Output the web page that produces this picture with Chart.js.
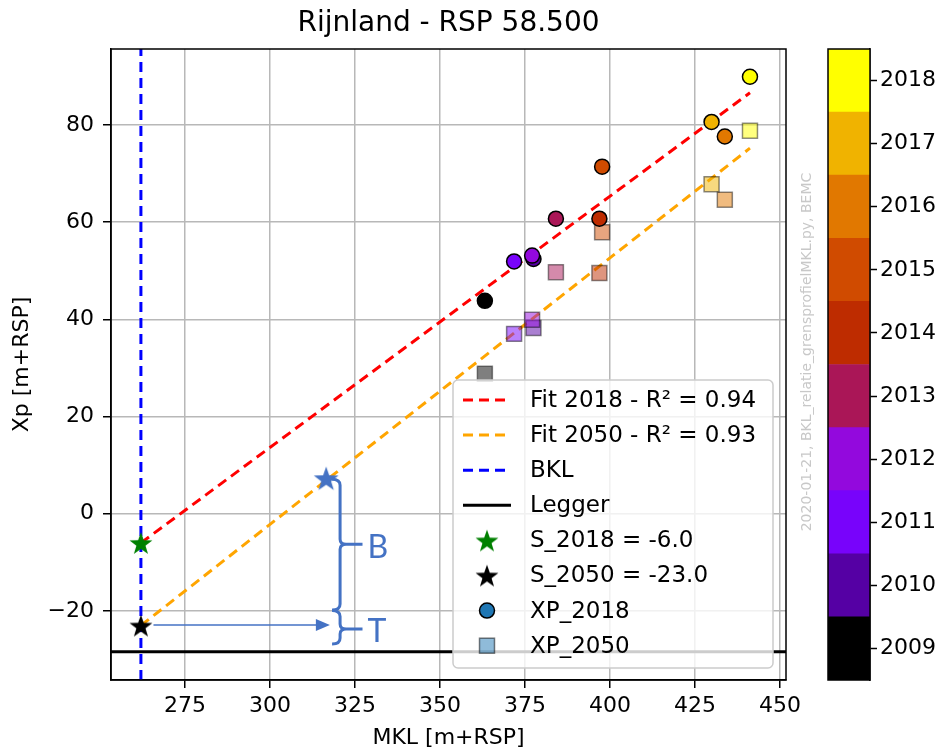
<!DOCTYPE html>
<html>
<head>
<meta charset="utf-8">
<script src="https://cdn.jsdelivr.net/npm/chart.js@4/dist/chart.umd.min.js"></script>
<style>
  body { margin: 0; background: #fff; }
  #wrap { position: relative; width: 939px; height: 751px; }
  #mainChart { position: absolute; left: 0; top: 0; }
  #barChart { position: absolute; left: 820px; top: 0; }
</style>
</head>
<body>
<div id="wrap">
  <canvas id="mainChart" width="939" height="751"></canvas>
  <canvas id="barChart" width="119" height="751"></canvas>
</div>
<script>
// data
var years = [2009, 2010, 2011, 2012, 2013, 2014, 2015, 2016, 2017, 2018];
var mkl = [363.2, 377.5, 371.8, 377.1, 384.1, 396.9, 397.7, 433.8, 429.9, 441.2];
var xp2018 = [43.8, 52.4, 51.9, 53.1, 60.7, 60.7, 71.4, 77.6, 80.6, 89.9];
var xp2050 = [28.8, 38.2, 37.0, 39.9, 49.7, 49.5, 57.9, 64.6, 67.8, 78.8];
var fitX = [262.0, 441.2];
var fit2018 = [-6.0, 86.6];
var fit2050 = [-23.0, 75.2];
var bklX = 262.0;
var leggerY = -28.4;
var s2018 = -6.0;
var s2050 = -23.0;
var xRange = [253.2, 451.8];
var yRange = [-34.2, 95.6];
var xTicks = [275, 300, 325, 350, 375, 400, 425, 450];
var yTicks = [-20, 0, 20, 40, 60, 80];
var legendLabels = ['Fit 2018 - R\u00b2 = 0.94', 'Fit 2050 - R\u00b2 = 0.93', 'BKL', 'Legger',
  'S_2018 = -6.0', 'S_2050 = -23.0', 'XP_2018', 'XP_2050'];
// hand-drawn overlay (B / T braces), in data units
var markStar = [316.5, 7.3];
var braceX = 320.6, braceTipX = 327.2;
var braceB = [7.1, -6.3, -19.8];
var braceT = [-19.9, -23.7, -26.8];
var arrowX = [265.7, 317.6], arrowY = -22.9;

// gnuplot colormap, 10 steps
var yearColors = ['#000000', '#5500a4', '#7803fb', '#9309dd', '#aa1657', '#be2c00', '#d04b00', '#e17800', '#f0b300', '#ffff00'];
var annColor = '#4472c4';

function alpha(hex, a) {
  var n = parseInt(hex.slice(1), 16);
  return 'rgba(' + (n >> 16) + ',' + ((n >> 8) & 255) + ',' + (n & 255) + ',' + a + ')';
}

function starImage(color, r) {
  var c = document.createElement('canvas');
  var s = Math.ceil(r * 2 + 4);
  c.width = s; c.height = s;
  var g = c.getContext('2d');
  g.beginPath();
  for (var i = 0; i < 10; i++) {
    var rr = i % 2 ? r * 0.4 : r;
    var a = -Math.PI / 2 + i * Math.PI / 5;
    g.lineTo(s / 2 + rr * Math.cos(a), s / 2 + rr * Math.sin(a) + r * 0.1);
  }
  g.closePath();
  g.fillStyle = color;
  g.fill();
  return c;
}
var greenStar = starImage('#008000', 12);
var blackStar = starImage('#000000', 12);
var blueStar = starImage(annColor, 13);

function pts(xs, ys) {
  return xs.map(function (x, i) { return { x: x, y: ys[i] }; });
}

var tickFont = { family: 'DejaVu Sans', size: 22 };
function fmt(v) { return v < 0 ? '\u2212' + Math.abs(v) : String(v); }

var framePlugin = {
  id: 'frame',
  afterDraw: function (chart) {
    var ca = chart.chartArea, ctx = chart.ctx;
    ctx.save();
    ctx.strokeStyle = '#000';
    ctx.lineWidth = 1.5;
    ctx.strokeRect(ca.left, ca.top, ca.right - ca.left, ca.bottom - ca.top);
    ctx.restore();
  }
};

function drawBrace(ctx, x, yTop, yMid, yBot, tipX) {
  ctx.beginPath();
  ctx.moveTo(x - 8, yTop);
  ctx.quadraticCurveTo(x, yTop, x, yTop + 6);
  ctx.lineTo(x, yMid - 5);
  ctx.quadraticCurveTo(x, yMid, x + 6, yMid);
  ctx.lineTo(tipX, yMid);
  ctx.moveTo(x + 6, yMid);
  ctx.quadraticCurveTo(x, yMid, x, yMid + 5);
  ctx.lineTo(x, yBot - 6);
  ctx.quadraticCurveTo(x, yBot, x - 8, yBot);
  ctx.stroke();
}

var overlayPlugin = {
  id: 'overlay',
  afterDraw: function (chart) {
    var ctx = chart.ctx, ca = chart.chartArea;
    var xs = chart.scales.x, ys = chart.scales.y;
    var ds = chart.data.datasets;
    function byLabel(l) { return ds.filter(function (d) { return d.label === l; })[0]; }

    // legend
    var w = 320, h = 288;
    var bx = ca.right - 13 - w, by = ca.bottom - 12 - h;
    ctx.save();
    ctx.beginPath();
    ctx.roundRect(bx, by, w, h, 5);
    ctx.fillStyle = 'rgba(255,255,255,0.8)';
    ctx.fill();
    ctx.strokeStyle = '#cccccc';
    ctx.lineWidth = 1.5;
    ctx.stroke();
    ctx.font = '23px "DejaVu Sans"';
    ctx.textBaseline = 'middle';
    ctx.textAlign = 'left';
    legendLabels.forEach(function (lab, i) {
      var d = byLabel(lab);
      var cy = by + 20 + i * 35.1;
      var lx = bx + 10, mx = bx + 34;
      if (d.showLine) {
        ctx.beginPath();
        ctx.setLineDash(d.borderDash || []);
        ctx.strokeStyle = d.borderColor;
        ctx.lineWidth = d.borderWidth;
        ctx.moveTo(lx, cy);
        ctx.lineTo(lx + 48, cy);
        ctx.stroke();
        ctx.setLineDash([]);
      } else if (d.pointStyle === 'circle') {
        ctx.beginPath();
        ctx.arc(mx, cy, 7.5, 0, Math.PI * 2);
        ctx.fillStyle = '#1f77b4';
        ctx.fill();
        ctx.strokeStyle = '#000';
        ctx.lineWidth = 1.5;
        ctx.stroke();
      } else if (d.pointStyle === 'rect') {
        ctx.fillStyle = 'rgba(31,119,180,0.5)';
        ctx.fillRect(mx - 7.5, cy - 7.5, 15, 15);
        ctx.strokeStyle = 'rgba(0,0,0,0.5)';
        ctx.lineWidth = 1.5;
        ctx.strokeRect(mx - 7.5, cy - 7.5, 15, 15);
      } else {
        var img = d.pointStyle;
        ctx.drawImage(img, mx - img.width / 2, cy - img.height / 2);
      }
      ctx.fillStyle = '#000';
      ctx.fillText(lab, bx + 77, cy + 1);
    });
    ctx.restore();

    // hand-drawn overlay
    ctx.save();
    ctx.strokeStyle = annColor;
    ctx.fillStyle = annColor;
    ctx.lineWidth = 3;
    var px = xs.getPixelForValue(braceX), tip = xs.getPixelForValue(braceTipX);
    drawBrace(ctx, px, ys.getPixelForValue(braceB[0]), ys.getPixelForValue(braceB[1]), ys.getPixelForValue(braceB[2]), tip);
    drawBrace(ctx, px, ys.getPixelForValue(braceT[0]), ys.getPixelForValue(braceT[1]), ys.getPixelForValue(braceT[2]), tip);
    ctx.font = '32px Lato';
    ctx.textBaseline = 'middle';
    ctx.fillText('B', tip + 5, ys.getPixelForValue(braceB[1]) + 3);
    ctx.fillText('T', tip + 5, ys.getPixelForValue(braceT[1]) + 3);
    var a0 = xs.getPixelForValue(arrowX[0]), a1 = xs.getPixelForValue(arrowX[1]), ay = ys.getPixelForValue(arrowY);
    ctx.lineWidth = 1.5;
    ctx.beginPath();
    ctx.moveTo(a0, ay);
    ctx.lineTo(a1 - 12, ay);
    ctx.stroke();
    ctx.beginPath();
    ctx.moveTo(a1, ay);
    ctx.lineTo(a1 - 14, ay - 6);
    ctx.lineTo(a1 - 14, ay + 6);
    ctx.closePath();
    ctx.fill();
    ctx.restore();

    // watermark
    ctx.save();
    ctx.translate(807, 352);
    ctx.rotate(-Math.PI / 2);
    ctx.font = '14px "DejaVu Sans"';
    ctx.fillStyle = '#c8c8c8';
    ctx.textAlign = 'center';
    ctx.textBaseline = 'middle';
    ctx.fillText('2020-01-21, BKL_relatie_grensprofielMKL.py, BEMC', 0, 0);
    ctx.restore();
  }
};

var axisGrid = { color: '#b8b8b8', lineWidth: 1.5, tickLength: 8, tickColor: '#000', tickWidth: 1.5 };
var axisBorder = { display: true, color: '#000', width: 1.5 };

new Chart(document.getElementById('mainChart'), {
  type: 'scatter',
  data: {
    datasets: [
      { label: 'mark', data: [{ x: markStar[0], y: markStar[1] }], pointStyle: blueStar, pointRadius: 13 },
      { label: legendLabels[4], data: [{ x: bklX, y: s2018 }], pointStyle: greenStar, pointRadius: 12 },
      { label: legendLabels[5], data: [{ x: bklX, y: s2050 }], pointStyle: blackStar, pointRadius: 12 },
      { label: legendLabels[6], data: pts(mkl, xp2018), pointStyle: 'circle', pointRadius: 7.5,
        backgroundColor: yearColors, borderColor: '#000', borderWidth: 1.5 },
      { label: legendLabels[7], data: pts(mkl, xp2050), pointStyle: 'rect', pointRadius: 10.6,
        backgroundColor: yearColors.map(function (c) { return alpha(c, 0.5); }), borderColor: 'rgba(0,0,0,0.45)', borderWidth: 1.5 },
      { label: legendLabels[0], data: pts(fitX, fit2018), showLine: true, pointRadius: 0,
        borderColor: '#ff0000', borderWidth: 3, borderDash: [10, 6] },
      { label: legendLabels[1], data: pts(fitX, fit2050), showLine: true, pointRadius: 0,
        borderColor: '#ffa500', borderWidth: 3, borderDash: [10, 6] },
      { label: legendLabels[2], data: [{ x: bklX, y: yRange[0] }, { x: bklX, y: yRange[1] }], showLine: true, pointRadius: 0,
        borderColor: '#0000ff', borderWidth: 3, borderDash: [10, 6] },
      { label: legendLabels[3], data: [{ x: xRange[0], y: leggerY }, { x: xRange[1], y: leggerY }], showLine: true, pointRadius: 0,
        borderColor: '#000000', borderWidth: 3 }
    ]
  },
  options: {
    responsive: false,
    animation: false,
    layout: { padding: { left: 0, right: 153, top: 0, bottom: 0 } },
    plugins: {
      legend: { display: false },
      tooltip: { enabled: false },
      title: {
        display: true, text: 'Rijnland - RSP 58.500', fullSize: false, color: '#000',
        font: { family: 'DejaVu Sans', size: 28, weight: 'normal' },
        padding: { top: 7, bottom: 8.4 }
      }
    },
    scales: {
      x: {
        type: 'linear', min: xRange[0], max: xRange[1],
        afterBuildTicks: function (s) { s.ticks = xTicks.map(function (v) { return { value: v }; }); },
        afterFit: function (s) { s.height = 71; },
        grid: axisGrid, border: axisBorder,
        ticks: { color: '#000', font: tickFont, padding: 5, maxRotation: 0, callback: fmt },
        title: { display: true, text: 'MKL [m+RSP]', color: '#000', font: { family: 'DejaVu Sans', size: 22 }, padding: { top: 2, bottom: 0 } }
      },
      y: {
        type: 'linear', min: yRange[0], max: yRange[1],
        afterBuildTicks: function (s) { s.ticks = yTicks.map(function (v) { return { value: v }; }); },
        afterFit: function (s) { s.width = 111; },
        grid: axisGrid, border: axisBorder,
        ticks: { color: '#000', font: tickFont, padding: 9, callback: fmt },
        title: { display: true, text: 'Xp [m+RSP]', color: '#000', font: { family: 'DejaVu Sans', size: 22 }, padding: { top: 9, bottom: 0 } }
      }
    }
  },
  plugins: [framePlugin, overlayPlugin]
});

new Chart(document.getElementById('barChart'), {
  type: 'bar',
  data: {
    labels: [''],
    datasets: years.map(function (y, i) {
      return { label: String(y), data: [[y - 0.5, y + 0.5]], backgroundColor: yearColors[i], borderWidth: 0,
        grouped: false, barPercentage: 1, categoryPercentage: 1 };
    })
  },
  options: {
    responsive: false,
    animation: false,
    layout: { padding: { left: 8, top: 49, bottom: 71, right: 0 } },
    plugins: { legend: { display: false }, tooltip: { enabled: false } },
    scales: {
      x: { display: false },
      y: {
        position: 'right', min: years[0] - 0.5, max: years[years.length - 1] + 0.5,
        afterBuildTicks: function (s) { s.ticks = years.map(function (v) { return { value: v }; }); },
        afterFit: function (s) { s.width = 69; },
        grid: { drawOnChartArea: false, tickLength: 7, tickColor: '#000', tickWidth: 1.5 },
        border: axisBorder,
        ticks: { color: '#000', font: tickFont, padding: 3, callback: function (v) { return String(v); } }
      }
    }
  },
  plugins: [framePlugin]
});
</script>
</body>
</html>
